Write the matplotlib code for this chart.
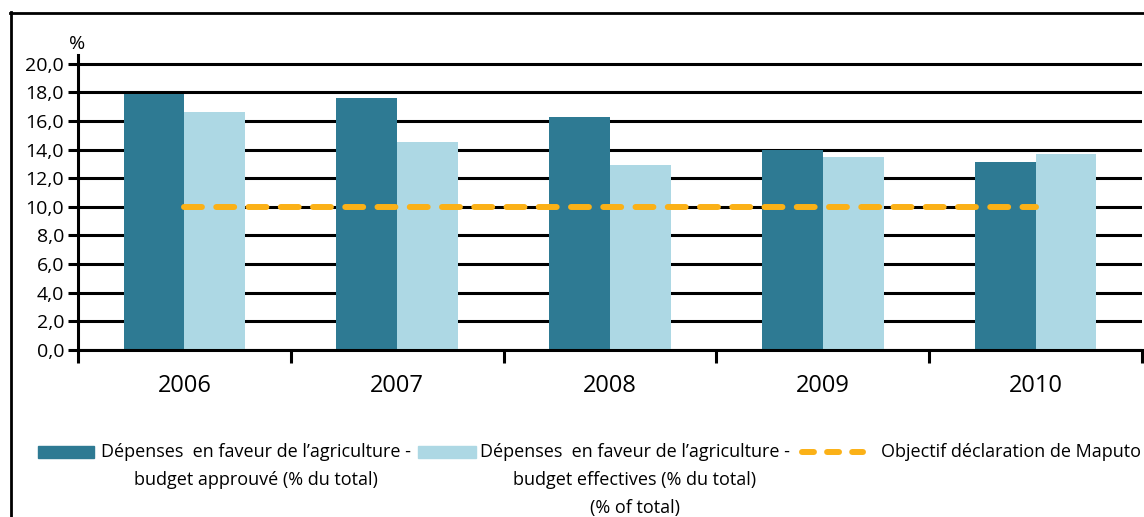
import numpy as np
import matplotlib
matplotlib.use('Agg')
import matplotlib.pyplot as plt
from matplotlib.patches import Rectangle
from matplotlib.lines import Line2D

years = ['2006', '2007', '2008', '2009', '2010']
approved = [17.9, 17.6, 16.3, 14.0, 13.1]
actual = [16.6, 14.5, 12.9, 13.5, 13.7]
maputo_target = [10, 10, 10, 10, 10]

dark = '#2e7a93'
light = '#add8e4'
orange = '#fbb117'

plt.rcParams['font.family'] = ['Open Sans', 'DejaVu Sans']

W, H = 1144, 517
fig = plt.figure(figsize=(W / 100, H / 100), dpi=100)
ax = fig.add_axes([78 / W, 1 - 350 / H, 1064 / W, 295 / H])

x = np.arange(len(years))
w = 0.286
ax.bar(x - w / 2, approved, w, color=dark, zorder=3)
ax.bar(x + w / 2, actual, w, color=light, zorder=3)
ax.plot(x, maputo_target, color=orange, lw=4.3, dashes=(3, 2.4),
        dash_capstyle='round', zorder=4)

ax.set_xlim(-0.5, len(years) - 0.5)
ax.set_ylim(0, 20.6)
ax.set_yticks(np.arange(0, 21, 2))
ax.set_yticklabels([f'{v:.1f}'.replace('.', ',') for v in np.arange(0, 21, 2)],
                   fontsize=14)
ax.yaxis.grid(True, color='black', lw=2.2)
ax.set_axisbelow(True)

ax.set_xticks(np.arange(-0.5, len(years)), labels=[])
ax.set_xticks(x, labels=years, minor=True)
ax.tick_params(axis='x', which='minor', length=0, labelsize=17, pad=17)
ax.tick_params(axis='x', which='major', length=9, width=2.2, direction='out')
ax.tick_params(axis='y', length=7, width=2.2, pad=3)

for s in ['top', 'right']:
    ax.spines[s].set_visible(False)
ax.spines['left'].set_linewidth(2.2)
ax.spines['bottom'].set_linewidth(2.2)
ax.spines['bottom'].set_zorder(5)

fig.text(77 / W, 1 - 44 / H, '%', fontsize=14, ha='center', va='center')

# outer frame (cut off on the right and bottom)
fig.add_artist(Line2D([10.5 / W, 10.5 / W], [0, 1 - 12 / H], color='black', lw=2))
fig.add_artist(Line2D([10 / W, 1], [1 - 12.5 / H, 1 - 12.5 / H], color='black', lw=2))

# legend
fs = 13


def fy(py):
    return 1 - py / H


def lines(cx, rows):
    for i, t in enumerate(rows):
        fig.text(cx / W, fy(452 + 28 * i), t, fontsize=fs, ha='center', va='center')


fig.add_artist(Rectangle((38 / W, fy(458)), 56 / W, 12 / H, color=dark))
lines(256, ["Dépenses  en faveur de l\u2019agriculture -", "budget approuvé (% du total)"])
fig.add_artist(Rectangle((418 / W, fy(458)), 58 / W, 12 / H, color=light))
lines(635, ["Dépenses  en faveur de l\u2019agriculture -", "budget effectives (% du total)",
            "(% of total)"])
fig.add_artist(Line2D([802 / W, 863 / W], [fy(452), fy(452)], color=orange, lw=4.3,
                      dashes=(2.0, 2.2), dash_capstyle='round'))
fig.text(881 / W, fy(452), 'Objectif déclaration de Maputo', fontsize=fs, ha='left', va='center')

fig.savefig('out.png', dpi=100)
